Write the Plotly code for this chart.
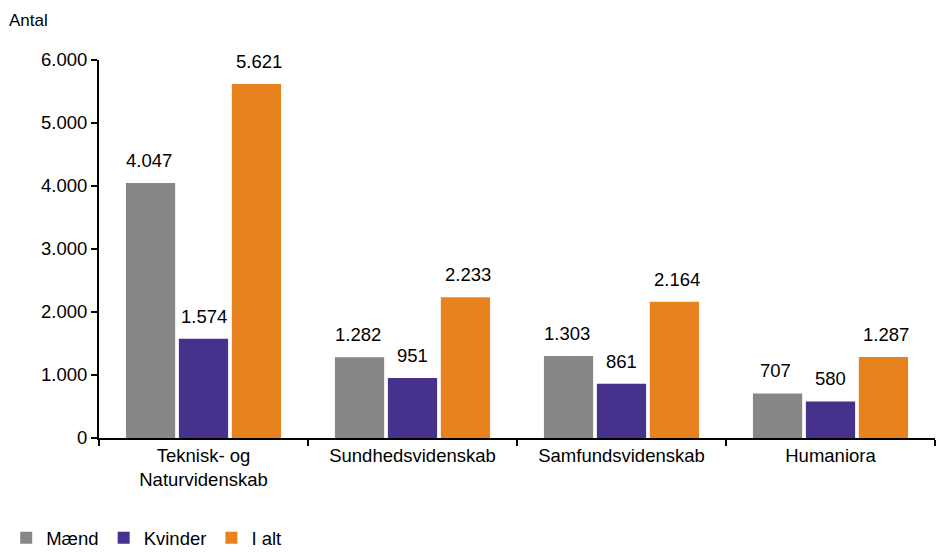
import plotly.graph_objects as go

categories = ["Teknisk- og<br>Naturvidenskab", "Sundhedsvidenskab", "Samfundsvidenskab", "Humaniora"]
maend = [4047, 1282, 1303, 707]
kvinder = [1574, 951, 861, 580]
i_alt = [5621, 2233, 2164, 1287]
series_names = ["Mænd", "Kvinder", "I alt"]
colors = ["#878787", "#46328C", "#E8821E"]
tick_vals = [0, 1000, 2000, 3000, 4000, 5000, 6000]

font = "Liberation Sans, Arial, sans-serif"
FS = 18.5
fig = go.Figure()
series = [maend, kvinder, i_alt]
for name, vals, col in zip(series_names, series, colors):
    fig.add_trace(go.Bar(
        x=categories, y=vals, name=name, marker=dict(color=col, line=dict(width=0)),
    ))

annotations = []
offsets = [-55, 0, 55]
for vals, off in zip(series, offsets):
    for cat, v in zip(categories, vals):
        annotations.append(dict(
            x=cat, y=v, xref="x", yref="y", xshift=off, yshift=10,
            yanchor="bottom", xanchor="center", showarrow=False,
            text=f"{v:,}".replace(",", "."), font=dict(size=FS)))
annotations.append(dict(text="Antal", x=0, xref="paper", xanchor="left", xshift=-92,
                        y=1, yref="paper", yanchor="middle", yshift=40, showarrow=False,
                        font=dict(size=17)))

fig.update_layout(
    width=937, height=552,
    margin=dict(l=99, r=2, t=60, b=114, autoexpand=False),
    plot_bgcolor="white", paper_bgcolor="white",
    barmode="group", bargap=0.24, bargroupgap=0.07,
    separators=",.",
    font=dict(family=font, size=FS, color="#000000"),
    showlegend=True,
    legend=dict(orientation="h", x=-0.111, xanchor="left", y=-0.215, yanchor="top",
                font=dict(size=FS), itemwidth=30, traceorder="normal",
                tracegroupgap=0, itemclick=False),
    yaxis=dict(range=[0, 6000], tickvals=tick_vals, tickformat=",d",
               showgrid=False, zeroline=False, showline=True, linecolor="#000000", linewidth=2,
               ticks="outside", ticklen=6, tickwidth=2, tickcolor="#000000",
               tickfont=dict(size=FS)),
    xaxis=dict(showgrid=False, showline=True, linecolor="#000000", linewidth=2,
               ticks="outside", tickson="boundaries", ticklen=6, tickwidth=2, tickcolor="#000000",
               tickfont=dict(size=FS)),
    annotations=annotations,
)
fig.write_html("out.html", config={"displayModeBar": False},
               post_script="document.body.style.margin='0px';")
